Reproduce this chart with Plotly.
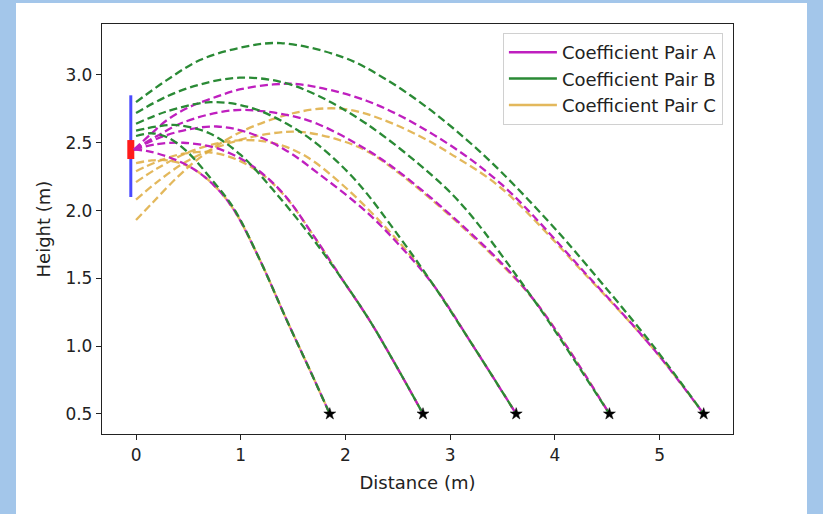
import plotly.graph_objects as go

# ---------------- data ----------------
landing_x = [1.85, 2.74, 3.63, 4.52, 5.42]
landing_y = [0.5, 0.5, 0.5, 0.5, 0.5]

# Coefficient Pair A (magenta) trajectories
A1_x = [-0.02, 0.10, 0.29, 0.52, 0.74, 0.93, 1.18, 1.44, 1.65, 1.85]
A1_y = [2.45, 2.44, 2.40, 2.32, 2.19, 2.01, 1.64, 1.19, 0.84, 0.50]
A2_x = [-0.02, 0.20, 0.45, 0.77, 1.09, 1.40, 1.69, 1.98, 2.23, 2.48, 2.74]
A2_y = [2.45, 2.49, 2.50, 2.46, 2.34, 2.13, 1.82, 1.48, 1.19, 0.86, 0.50]
A3_x = [-0.02, 0.20, 0.45, 0.77, 1.09, 1.44, 1.73, 2.20, 2.52, 2.84, 3.22, 3.63]
A3_y = [2.45, 2.53, 2.59, 2.62, 2.57, 2.44, 2.28, 1.99, 1.74, 1.45, 1.00, 0.50]
A4_x = [-0.02, 0.20, 0.45, 0.93, 1.41, 1.73, 2.20, 2.52, 3.00, 3.48, 3.79, 4.11, 4.52]
A4_y = [2.45, 2.55, 2.65, 2.74, 2.71, 2.64, 2.45, 2.28, 1.97, 1.62, 1.35, 1.00, 0.50]
A5_x = [-0.02, 0.15, 0.30, 0.50, 0.77, 1.00, 1.31, 1.57, 2.20, 2.84, 3.48, 4.30, 4.94, 5.42]
A5_y = [2.45, 2.57, 2.67, 2.76, 2.84, 2.895, 2.93, 2.93, 2.81, 2.56, 2.20, 1.53, 0.98, 0.50]

# Coefficient Pair B (green) trajectories
B1_x = [0.00, 0.15, 0.30, 0.48, 0.71, 0.93, 1.18, 1.44, 1.65, 1.85]
B1_y = [2.55, 2.57, 2.54, 2.44, 2.24, 2.02, 1.64, 1.19, 0.84, 0.50]
B2_x = [0.00, 0.20, 0.40, 0.70, 1.00, 1.30, 1.65, 1.98, 2.23, 2.48, 2.74]
B2_y = [2.59, 2.62, 2.63, 2.57, 2.41, 2.16, 1.83, 1.48, 1.19, 0.86, 0.50]
B3_x = [0.00, 0.29, 0.71, 1.09, 1.44, 1.73, 2.10, 2.52, 2.84, 3.22, 3.63]
B3_y = [2.64, 2.73, 2.80, 2.76, 2.64, 2.49, 2.22, 1.80, 1.45, 1.00, 0.50]
B4_x = [0.00, 0.29, 0.61, 0.99, 1.38, 1.73, 2.20, 2.84, 3.16, 3.79, 4.08, 4.52]
B4_y = [2.72, 2.84, 2.93, 2.98, 2.95, 2.85, 2.64, 2.25, 2.00, 1.35, 1.02, 0.50]
B5_x = [0.00, 0.29, 0.61, 0.99, 1.38, 1.98, 2.36, 2.78, 3.16, 3.48, 3.95, 4.30, 4.94, 5.42]
B5_y = [2.80, 2.96, 3.11, 3.20, 3.235, 3.13, 2.98, 2.76, 2.52, 2.29, 1.91, 1.60, 1.00, 0.50]

# Coefficient Pair C (orange) trajectories
C1_x = [0.00, 0.15, 0.30, 0.52, 0.74, 0.93, 1.18, 1.44, 1.65, 1.85]
C1_y = [2.35, 2.37, 2.37, 2.32, 2.19, 2.01, 1.64, 1.19, 0.84, 0.50]
C2_x = [0.00, 0.20, 0.45, 0.70, 0.95, 1.20, 1.45, 1.69, 1.98, 2.23, 2.48, 2.74]
C2_y = [2.29, 2.36, 2.42, 2.43, 2.38, 2.27, 2.08, 1.82, 1.48, 1.19, 0.86, 0.50]
C3_x = [0.00, 0.20, 0.50, 0.80, 1.05, 1.30, 1.60, 2.00, 2.52, 2.84, 3.22, 3.63]
C3_y = [2.21, 2.31, 2.43, 2.50, 2.52, 2.50, 2.41, 2.17, 1.76, 1.45, 1.00, 0.50]
C4_x = [0.00, 0.20, 0.50, 0.90, 1.30, 1.57, 1.90, 2.20, 2.52, 3.00, 3.48, 3.79, 4.11, 4.52]
C4_y = [2.08, 2.21, 2.37, 2.50, 2.57, 2.58, 2.53, 2.44, 2.27, 1.96, 1.61, 1.35, 1.00, 0.50]
C5_x = [0.00, 0.16, 0.40, 0.61, 1.00, 1.57, 1.98, 2.36, 2.78, 3.00, 3.48, 4.30, 4.94, 5.42]
C5_y = [1.93, 2.06, 2.25, 2.39, 2.58, 2.73, 2.75, 2.67, 2.52, 2.42, 2.17, 1.52, 0.98, 0.50]

release_x = [-0.05, -0.05]
pole_y = [2.10, 2.85]
release_y = [2.38, 2.52]

pairs = {
    "A": ([A1_x, A2_x, A3_x, A4_x, A5_x], [A1_y, A2_y, A3_y, A4_y, A5_y]),
    "B": ([B1_x, B2_x, B3_x, B4_x, B5_x], [B1_y, B2_y, B3_y, B4_y, B5_y]),
    "C": ([C1_x, C2_x, C3_x, C4_x, C5_x], [C1_y, C2_y, C3_y, C4_y, C5_y]),
}
labels = {"A": "Coefficient Pair A", "B": "Coefficient Pair B", "C": "Coefficient Pair C"}
colors = {"A": "#bf1fbf", "B": "#2a8a35", "C": "rgba(222,172,64,0.85)"}
legend_rank = {"A": 1, "B": 2, "C": 3}

x_ticks = [0, 1, 2, 3, 4, 5]
y_ticks = [0.5, 1.0, 1.5, 2.0, 2.5, 3.0]

# ---------------- figure ----------------
fig = go.Figure()

fig.add_trace(go.Scatter(x=release_x, y=pole_y, mode="lines",
                         line=dict(color="#4a4aff", width=3), showlegend=False, hoverinfo="skip"))
fig.add_trace(go.Scatter(x=release_x, y=release_y, mode="lines",
                         line=dict(color="#ff1a1a", width=7), showlegend=False, hoverinfo="skip"))

for key in ["C", "A", "B"]:
    xs, ys = pairs[key]
    for x, y in zip(xs, ys):
        fig.add_trace(go.Scatter(x=x, y=y, mode="lines",
                                 line=dict(color=colors[key], width=2.3, dash="8px,4px",
                                           shape="spline", smoothing=1.0),
                                 showlegend=False, hoverinfo="skip"))

for key in ["A", "B", "C"]:
    fig.add_trace(go.Scatter(x=[None], y=[None], mode="lines", name=labels[key],
                             legendgroup=key,
                             line=dict(color=colors[key], width=2.5),
                             legendrank=legend_rank[key]))

fig.add_trace(go.Scatter(x=landing_x, y=landing_y, mode="markers",
                         marker=dict(symbol="star", size=9, color="black",
                                     line=dict(color="black", width=0.5)),
                         showlegend=False, hoverinfo="skip"))

# white card on a light-blue page
fig.add_shape(type="rect", xref="paper", yref="paper",
              x0=(16 - 102) / 631, x1=(807 - 102) / 631,
              y0=-0.25, y1=(434 - 3) / 410,
              fillcolor="white", line=dict(width=0), layer="below")

font_family = "DejaVu Sans"
fig.update_layout(
    width=823, height=514,
    margin=dict(l=102, r=90, t=24, b=80),
    paper_bgcolor="#a3c6ea",
    plot_bgcolor="rgba(0,0,0,0)",
    font=dict(family=font_family, size=16, color="#222"),
    legend=dict(x=0.984, y=0.978, xanchor="right", yanchor="top",
                bgcolor="rgba(255,255,255,0.9)", bordercolor="#d0d0d0", borderwidth=1,
                font=dict(size=18, family=font_family, color="#222"),
                itemwidth=48, tracegroupgap=0, traceorder="grouped"),
    xaxis=dict(range=[-0.325, 5.70], tickvals=x_ticks, ticktext=[str(t) for t in x_ticks],
               showgrid=False, zeroline=False, showline=True, linecolor="#222", linewidth=1.3,
               mirror=True, ticks="outside", ticklen=5, tickcolor="#222",
               tickfont=dict(size=17),
               title=dict(text="Distance (m)", font=dict(size=18), standoff=12)),
    yaxis=dict(range=[0.352, 3.376], tickvals=y_ticks, ticktext=[f"{t:.1f}" for t in y_ticks],
               showgrid=False, zeroline=False, showline=True, linecolor="#222", linewidth=1.3,
               mirror=True, ticks="outside", ticklen=5, tickcolor="#222",
               tickfont=dict(size=17),
               title=dict(text="Height (m)", font=dict(size=18), standoff=10)),
)

fig.write_html("out.html")
